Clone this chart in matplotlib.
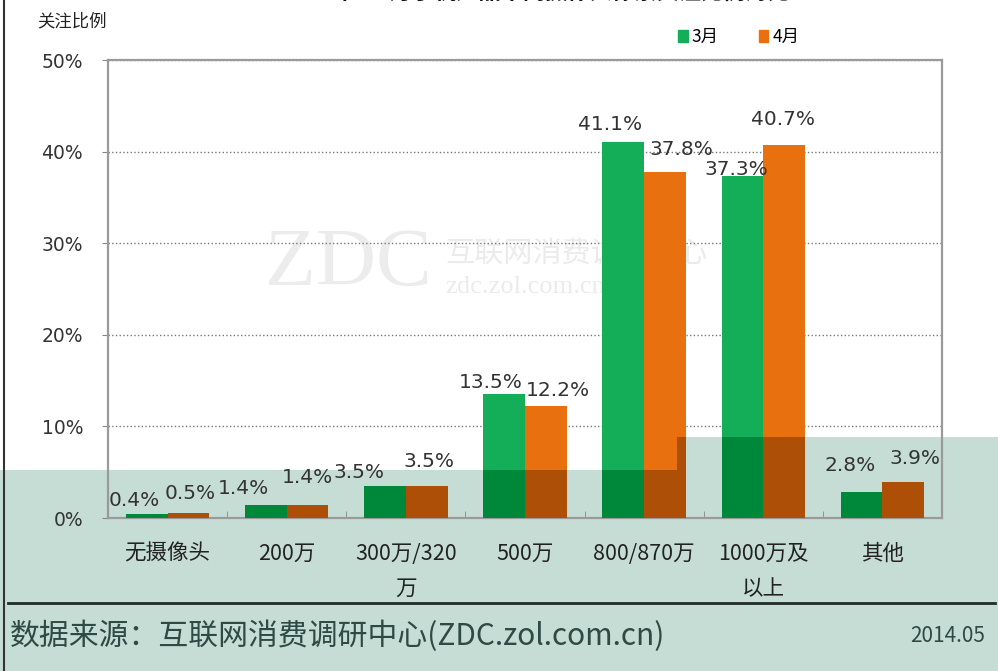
import matplotlib
matplotlib.use("Agg")
import matplotlib.pyplot as plt
from matplotlib.patches import Patch, Polygon
from matplotlib.lines import Line2D
import numpy as np

plt.rcParams['font.family'] = ['Noto Sans CJK SC', 'DejaVu Sans']

# data
categories = ['无摄像头', '200万', '300万/320\n万', '500万', '800/870万', '1000万及\n以上', '其他']
march = [0.4, 1.4, 3.5, 13.5, 41.1, 37.3, 2.8]
april = [0.5, 1.4, 3.5, 12.2, 37.8, 40.7, 3.9]
series_names = ['3月', '4月']
y_ticks = [0, 10, 20, 30, 40, 50]

# label nudges in pixels (label placement in the source is irregular)
march_dx = [-12, -22, -26, -13, -13, -6, -11]
march_dy = [14, 17, 13, 12, 17, 7, 27]
april_dx = [2, 0, 2, 12, 16, -1, 12]
april_dy = [20, 28, 24, 16, 22, 26, 24]

W, H = 998, 671
GREEN, ORANGE = '#14ae58', '#e8700f'
GREEN_DK, ORANGE_DK = '#00883a', '#ae4f08'
OVERLAY = '#c6ddd5'


def fx(px):
    return px / W


def fy(py):
    return 1 - py / H


fig = plt.figure(figsize=(W / 100, H / 100), dpi=100)
fig.patch.set_facecolor('white')

# tinted band at the bottom of the screenshot
band_pts = [(fx(0), fy(470)), (fx(677), fy(470)), (fx(677), fy(437)),
            (fx(W), fy(437)), (fx(W), fy(H)), (fx(0), fy(H))]
fig.add_artist(Polygon(band_pts, closed=True, transform=fig.transFigure,
                       facecolor=OVERLAY, edgecolor='none', zorder=-1))
band_clip = Polygon(band_pts, closed=True, transform=fig.transFigure)

ax = fig.add_axes([fx(108), fy(518), (942 - 108) / W, (518 - 60) / H])
ax.set_facecolor('none')

x = np.arange(len(categories))
bw = 0.35
g_bars = ax.bar(x - bw / 2, march, bw, color=GREEN, zorder=3)
o_bars = ax.bar(x + bw / 2, april, bw, color=ORANGE, zorder=3)
# darker part of bars inside the tinted band
for vals, off, col in [(march, -bw / 2, GREEN_DK), (april, bw / 2, ORANGE_DK)]:
    dark = ax.bar(x + off, vals, bw, color=col, zorder=3.5)
    for b in dark:
        b.set_clip_path(band_clip)

for bars, vals, dxs, dys in [(g_bars, march, march_dx, march_dy),
                             (o_bars, april, april_dx, april_dy)]:
    for b, v, dx, dy in zip(bars, vals, dxs, dys):
        ax.annotate(f'{v:.1f}%', xy=(b.get_x() + b.get_width() / 2, v),
                    xytext=(dx, dy), textcoords='offset pixels',
                    ha='center', va='center', fontsize=14.5,
                    color='#333333', family='DejaVu Sans', zorder=5)

ax.set_xlim(-0.5, len(categories) - 0.5)
ax.set_ylim(0, 50)
ax.set_yticks(y_ticks)
ax.set_yticklabels([f'{t}%' for t in y_ticks], fontsize=13.5, color='#333333',
                   family='DejaVu Sans')
ax.set_xticks(x)
ax.set_xticklabels(categories, fontsize=15.5, color='#222222', linespacing=1.75)
ax.set_xticks(np.arange(0.5, len(categories) - 0.5, 1), minor=True)
ax.tick_params(axis='x', which='major', length=0, pad=18)
ax.tick_params(axis='x', which='minor', direction='in', length=5, color='#888888')
ax.tick_params(axis='y', direction='out', length=4, color='#888888', pad=14)

ax.grid(axis='y', linestyle=':', color='#777777', linewidth=1.0, zorder=1)
for s in ax.spines.values():
    s.set_color('#9a9a9a')
    s.set_linewidth(1.6)

# watermark
fig.text(fx(348), fy(265), 'ZDC', fontsize=60, color='#ececec', ha='center',
         va='center', family='Liberation Serif', zorder=-0.5)
fig.text(fx(445), fy(255), '互联网消费调研中心', fontsize=21, color='#ebebeb',
         ha='left', va='center', zorder=-0.5)
fig.text(fx(445), fy(287), 'zdc.zol.com.cn', fontsize=19, color='#ebebeb',
         ha='left', va='center', family='Liberation Serif', zorder=-0.5)

# clipped title at the very top (only its lower edge shows, as in the source)
fig.text(fx(535), fy(-8), '2014年3-4月手机产品不同摄像头像素关注比例对比',
         fontsize=16, fontweight='bold', color='#111111', ha='center', va='center')

fig.text(fx(37), fy(21), '关注比例', fontsize=12.5, color='#222222',
         ha='left', va='center')

fig.legend(handles=[Patch(color=GREEN, label=series_names[0]),
                    Patch(color=ORANGE, label=series_names[1])],
           loc='center left', bbox_to_anchor=(fx(678), fy(37)), ncol=2,
           frameon=False, handlelength=0.55, handleheight=0.7,
           handletextpad=0.25, columnspacing=2.3, fontsize=12.5,
           borderaxespad=0, borderpad=0)

# footer
fig.add_artist(Line2D([fx(8), fx(995)], [fy(603), fy(603)],
                      transform=fig.transFigure, color='#1f2b28', linewidth=2))
fig.text(fx(10), fy(636), '数据来源：互联网消费调研中心(ZDC.zol.com.cn)',
         fontsize=21.5, color='#2e4a45', ha='left', va='center')
fig.text(fx(985), fy(636), '2014.05', fontsize=15, color='#2e4a45',
         ha='right', va='center')

# left frame edge
fig.add_artist(Line2D([fx(4), fx(4)], [0, 1], transform=fig.transFigure,
                      color='#333333', linewidth=1.5))

fig.savefig('out.png', dpi=100)
plt.close(fig)
